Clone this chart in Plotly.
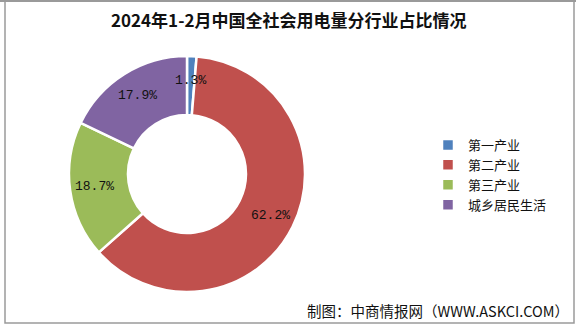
import math
import plotly.graph_objects as go

categories = ["第一产业", "第二产业", "第三产业", "城乡居民生活"]
shares = [1.3, 62.2, 18.7, 17.9]
colors = ["#4F81BD", "#C0504D", "#9BBB59", "#8064A2"]
title_text = "2024年1-2月中国全社会用电量分行业占比情况"
source_text = "制图：中商情报网（WWW.ASKCI.COM）"

W, H = 576, 326
cx, cy, R = 187, 174, 118
hole = 0.5

fig = go.Figure()
fig.add_trace(go.Pie(
    labels=categories, values=shares, sort=False, direction="clockwise",
    rotation=0, hole=hole, textinfo="none",
    marker=dict(colors=colors, line=dict(color="white", width=2.5)),
    domain=dict(x=[(cx - R) / W, (cx + R) / W], y=[1 - (cy + R) / H, 1 - (cy - R) / H]),
    hoverinfo="label+percent",
))

# percentage labels placed in the ring
total = sum(shares)
acc = 0.0
annots = []
rlab = R * 0.79
for v in shares:
    mid = (acc + v / 2) / total * 2 * math.pi
    acc += v
    px = cx + rlab * math.sin(mid)
    py = cy - rlab * math.cos(mid)
    annots.append(dict(x=px / W, y=1 - py / H, xref="paper", yref="paper",
                       xanchor="center", yanchor="middle",
                       text=f"{v:.1f}%", showarrow=False,
                       font=dict(family="Liberation Mono", size=13, color="#111")))

annots.append(dict(x=0.5, y=1 - 20 / H, xref="paper", yref="paper", text="<b>" + title_text + "</b>",
                   xanchor="center", yanchor="middle",
                   showarrow=False, font=dict(family="Noto Sans CJK SC", size=17, color="#111")))
annots.append(dict(x=571 / W, y=1 - 310 / H, xref="paper", yref="paper", text=source_text,
                   xanchor="right", yanchor="middle", showarrow=False,
                   font=dict(family="Noto Sans CJK SC", size=14.5, color="#111")))

fig.update_layout(
    width=W, height=H, margin=dict(l=0, r=0, t=0, b=0),
    paper_bgcolor="white", plot_bgcolor="white",
    annotations=annots,
    legend=dict(x=428 / W, y=1 - 130 / H, xanchor="left", yanchor="top",
                font=dict(family="Noto Sans CJK SC", size=13, color="#111"),
                itemwidth=30, tracegroupgap=0, bgcolor="rgba(0,0,0,0)"),
    shapes=[
        dict(type="rect", xref="paper", yref="paper", x0=5 / W, x1=574 / W, y0=1 - 323 / H, y1=1 - 1 / H,
             line=dict(color="#9a9a9a", width=1.5)),
        dict(type="line", xref="paper", yref="paper", x0=0, x1=1, y0=1 - 1 / H, y1=1 - 1 / H,
             line=dict(color="#9a9a9a", width=2)),
    ],
)

fig.write_html("out.html")
